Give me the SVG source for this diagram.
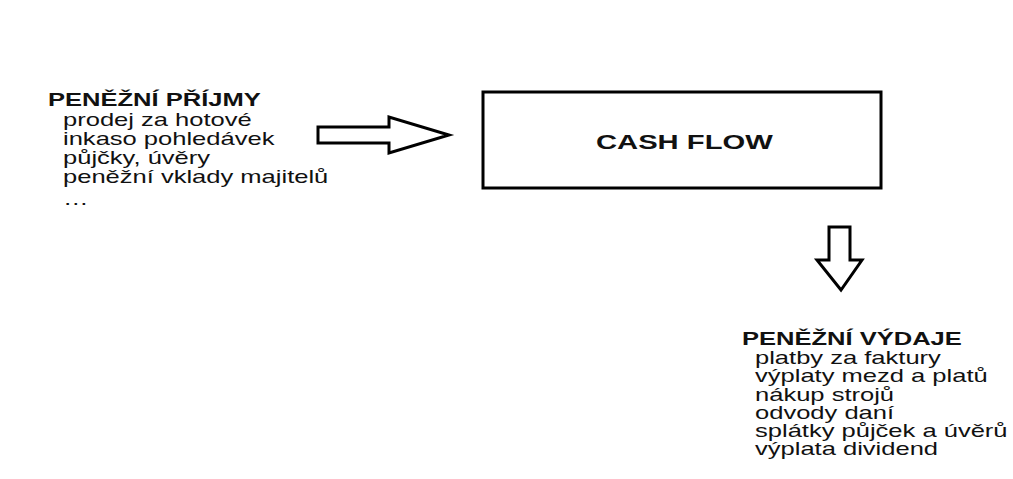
<svg xmlns="http://www.w3.org/2000/svg" width="1013" height="479" viewBox="0 0 1013 479">
<style>
  .t { font-family: "Liberation Sans", Arial, sans-serif; font-size: 17.5px; fill: #111; }
  .b { font-weight: bold; font-size: 17.5px; }
  .cf { font-family: "Liberation Sans", Arial, sans-serif; font-size: 20px; font-weight: bold; fill: #111; }
  .shape { fill: #fff; stroke: #000; stroke-width: 3; stroke-linejoin: miter; }
</style>
<rect width="1013" height="479" fill="#fff"/>
<g id="prijmy">
  <text class="t b" transform="translate(48,106) scale(1.46,1)">PENĚŽNÍ PŘÍJMY</text>
  <text class="t" transform="translate(63,126) scale(1.46,1)">prodej za hotové</text>
  <text class="t" transform="translate(63,145) scale(1.46,1)">inkaso pohledávek</text>
  <text class="t" transform="translate(63,164) scale(1.46,1)">půjčky, úvěry</text>
  <text class="t" transform="translate(63,183) scale(1.46,1)">peněžní vklady majitelů</text>
  <text class="t" transform="translate(63,205) scale(1.46,1)">…</text>
</g>
<g id="cashflow">
  <rect class="shape" x="483" y="92" width="398" height="96"/>
  <text class="cf" transform="translate(596,149) scale(1.46,1)">CASH FLOW</text>
</g>
<g id="vydaje">
  <text class="t b" transform="translate(742,345) scale(1.46,1)">PENĚŽNÍ VÝDAJE</text>
  <text class="t" transform="translate(755,364) scale(1.46,1)">platby za faktury</text>
  <text class="t" transform="translate(755,382) scale(1.46,1)">výplaty mezd a platů</text>
  <text class="t" transform="translate(755,401) scale(1.46,1)">nákup strojů</text>
  <text class="t" transform="translate(755,419) scale(1.46,1)">odvody daní</text>
  <text class="t" transform="translate(755,437) scale(1.46,1)">splátky půjček a úvěrů</text>
  <text class="t" transform="translate(755,455) scale(1.46,1)">výplata dividend</text>
</g>
<g id="connectors">
  <polygon class="shape" points="318,127 389,127 389,117 449,135 389,153 389,143 318,143"/>
  <polygon class="shape" points="829,227 850,227 850,260 862,260 841,290 817,260 829,260"/>
</g>
</svg>
